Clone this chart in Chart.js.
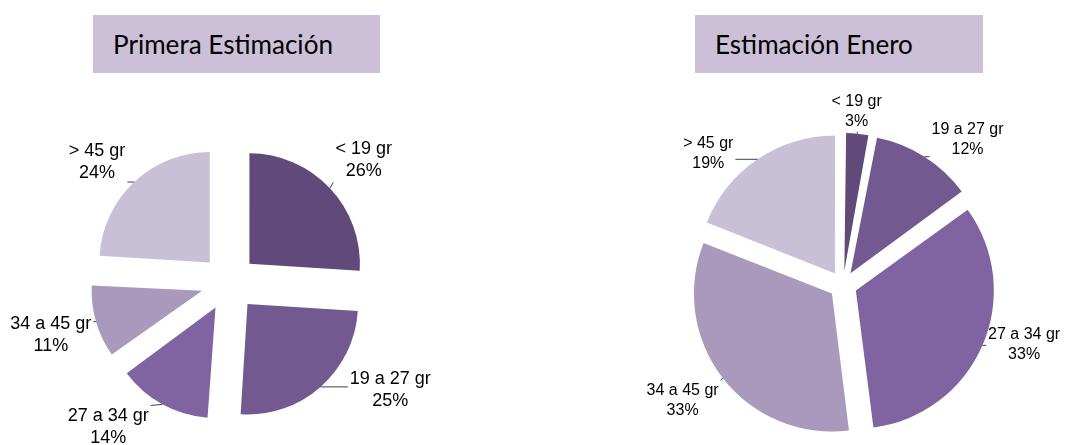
<!DOCTYPE html>
<html><head><meta charset="utf-8">
<script src="https://cdn.jsdelivr.net/npm/chart.js@4.4.0/dist/chart.umd.min.js"></script>
<style>
html,body{margin:0;padding:0;background:#fff;width:1077px;height:445px;overflow:hidden;}
#wrap{position:relative;width:1077px;height:445px;}
canvas{position:absolute;top:0;}
.title{position:absolute;top:15px;height:58px;background:#CCBFD8;display:flex;align-items:center;box-sizing:border-box;padding-left:20px;font-family:Lato,'Open Sans',sans-serif;font-size:28px;color:#000;white-space:nowrap;z-index:2;}
</style></head>
<body><div id="wrap">
<canvas id="c1" width="540" height="445" style="left:0px"></canvas>
<canvas id="c2" width="537" height="445" style="left:540px"></canvas>
<div class="title" style="left:93px;width:287px"><span id="t1"></span></div>
<div class="title" style="left:695px;width:288px"><span id="t2"></span></div>
</div>
<script>
const categories = ['< 19 gr', '19 a 27 gr', '27 a 34 gr', '34 a 45 gr', '> 45 gr'];
const primeraValues = [26, 25, 14, 11, 24];
const eneroValues = [3, 12, 33, 33, 19];
const sliceColors = ['#5F4A7A', '#72598F', '#8064A2', '#A899BD', '#C8C0D7'];
const chartTitles = ['Primera Estimación', 'Estimación Enero'];

// titles (fit to reference text widths)
function setTitle(id, text, target) {
  const el = document.getElementById(id);
  el.textContent = text;
  const w = el.getBoundingClientRect().width;
  el.parentNode.style.fontSize = (28 * target / w).toFixed(2) + 'px';
}
setTitle('t1', chartTitles[0], 220);
setTitle('t2', chartTitles[1], 198);

// keep exploded slices at the same radius (Chart.js enlarges narrow exploded arcs)
const explodeFix = {
  id: 'explodeFix',
  afterDatasetUpdate(chart, args) {
    const meta = args.meta;
    const R = meta.controller.outerRadius;
    meta.data.forEach(arc => {
      const off = ((arc.options && arc.options.offset) || 0) / 4;
      const fix = 1 - Math.sin(Math.min(Math.PI, arc.circumference));
      arc.outerRadius = R - off * fix;
    });
  }
};

const sliceLabels = {
  id: 'sliceLabels',
  afterDatasetsDraw(chart, args, opts) {
    const ctx = chart.ctx;
    const meta = chart.getDatasetMeta(0);
    const values = chart.data.datasets[0].data;
    const R = meta.controller.outerRadius;
    const nudge = opts.nudge || [];
    ctx.save();
    ctx.font = opts.size + 'px "Liberation Sans", Arial, sans-serif';
    ctx.textAlign = 'center';
    ctx.textBaseline = 'middle';
    meta.data.forEach((arc, i) => {
      const mid = (arc.startAngle + arc.endAngle) / 2;
      const off = (arc.options.offset || 0) / 4;
      const ux = Math.cos(mid), uy = Math.sin(mid);
      const ax = arc.x + ux * off, ay = arc.y + uy * off;
      const [dA, dD] = nudge[i] || [0, 0];
      const la = mid + dA * Math.PI / 180;
      const lx = Math.cos(la), ly = Math.sin(la);
      const lines = [chart.data.labels[i], values[i] + '%'];
      const w = Math.max(...lines.map(l => ctx.measureText(l).width));
      const lh = opts.lineHeight, h = lh * lines.length;
      const d = R + opts.gap + dD + Math.abs(lx) * w / 2 + Math.abs(ly) * h / 2;
      const cx = ax + lx * d, cy = ay + ly * d;
      ctx.fillStyle = '#000';
      lines.forEach((l, k) => ctx.fillText(l, cx, cy - h / 2 + lh * (k + 0.5)));
      // leader line from the slice edge to the label side
      const px = ax + ux * R, py = ay + uy * R;
      let qx, qy;
      if (px < cx - w / 2 || px > cx + w / 2) {
        qx = px < cx ? cx - w / 2 - 2 : cx + w / 2 + 2;
        qy = Math.min(Math.max(py, cy - h / 2), cy + h / 2);
      } else {
        qx = px;
        qy = py < cy ? cy - h / 2 : cy + h / 2;
      }
      if (Math.hypot(qx - px, qy - py) > 2) {
        ctx.strokeStyle = '#404040';
        ctx.lineWidth = 1;
        ctx.beginPath();
        ctx.moveTo(px, py);
        ctx.lineTo(qx, qy);
        ctx.stroke();
      }
    });
    ctx.restore();
  }
};

function makePie(id, values, radius, offset, padding, labelOpts) {
  return new Chart(document.getElementById(id), {
    type: 'pie',
    data: {
      labels: categories,
      datasets: [{
        data: values,
        backgroundColor: sliceColors,
        borderWidth: 0,
        offset: offset,
        hoverOffset: 0
      }]
    },
    options: {
      responsive: false,
      animation: false,
      events: [],
      radius: radius,
      layout: { padding: padding },
      plugins: {
        legend: { display: false },
        title: { display: false },
        tooltip: { enabled: false },
        sliceLabels: labelOpts
      }
    },
    plugins: [explodeFix, sliceLabels]
  });
}

makePie('c1', primeraValues, 110.5, 112, { left: 0, right: 82, top: 121, bottom: 0 },
  { size: 18, lineHeight: 22, gap: 8,
    nudge: [[1, 0], [-17.6, 2], [13, -1], [0, -6], [-5, -3]] });
makePie('c2', eneroValues, 138, 56, { left: 69, right: 0, top: 125, bottom: 0 },
  { size: 16, lineHeight: 20, gap: 2,
    nudge: [[-1, -2], [8.9, -1.5], [-5.5, -3.6], [2.3, 2.5], [-12.5, 2.3]] });
</script>
</body></html>
